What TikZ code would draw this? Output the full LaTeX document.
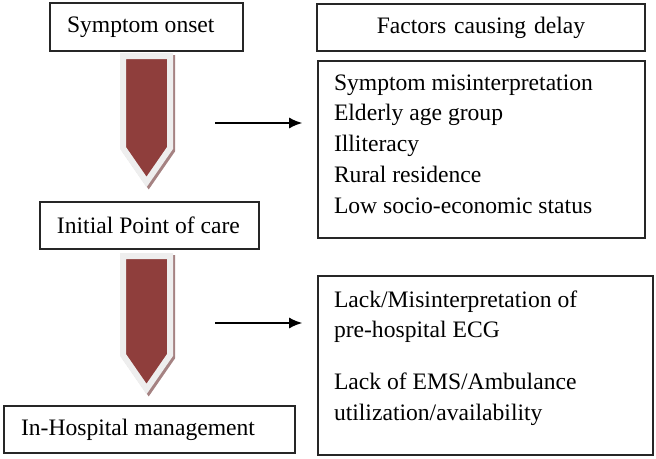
\documentclass[tikz,border=0pt]{standalone}
\usepackage{fontspec}
\setmainfont{Liberation Serif}
\usepackage{tikz}
\usetikzlibrary{arrows.meta,positioning}
\definecolor{arrowred}{RGB}{143,62,60}
\definecolor{rimgray}{RGB}{238,238,238}
\definecolor{shadegray}{RGB}{165,130,130}
\tikzstyle{stagebox} = [rectangle, draw=black!85, line width=1.6pt, align=flush left,
    inner xsep=16pt, minimum height=47pt]
\tikzstyle{listbox} = [rectangle, draw=black!85, line width=1.6pt, align=flush left,
    inner xsep=16pt]
\tikzstyle{line} = [draw, line width=1.6pt, -{Latex[length=13pt,width=11pt]}]
\tikzstyle{chevron} = [fill=arrowred, draw=rimgray, line width=6pt, line join=miter]
\tikzstyle{chevronshade} = [fill=shadegray, draw=shadegray, line width=6pt, line join=miter,
    xshift=2.2pt, yshift=-2.2pt]

\begin{document}
\begin{tikzpicture}[x=1pt,y=-1pt,font=\fontsize{23.6}{30.8}\selectfont]
  \useasboundingbox (0,0) rectangle (656,458);

      \node [stagebox, text width=161pt, minimum height=48pt] (onset) at (146.5,27) {\hspace*{1pt}Symptom onset};
      \node [stagebox, text width=187pt] (firstcare) at (149.5,225.5) {\hspace*{1pt}Initial Point of care};
      \node [stagebox, text width=259pt] (hospital) at (149.5,429.5) {\hspace*{1pt}In-Hospital management};

      \node [listbox, align=center, text width=296pt, minimum height=47pt] (factors) at (481,27.5) {Factors causing delay};
      \node [listbox, text width=295pt, text height=16pt, text depth=135pt, minimum height=177pt] (patient) at (481.5,149.5)
        {Symptom misinterpretation\\Elderly age group\\Illiteracy\\Rural residence\\Low socio-economic status};
      \node [listbox, text width=303pt, text height=16pt, text depth=133pt, minimum height=179pt] (system) at (485.5,365.5)
        {Lack/Misinterpretation of\\pre-hospital ECG\\[21pt]Lack of EMS/Ambulance\\utilization/availability};

      % big down arrows
      \foreach \s in {chevronshade,chevron} {
        \draw [\s] (123,56) -- (170,56) -- (170,148) -- (146.5,182) -- (123,148) -- cycle;
        \draw [\s] (123,256) -- (170,256) -- (170,355) -- (146.5,389) -- (123,355) -- cycle;
      }

      \coordinate (a1) at (215,123);
      \coordinate (a2) at (215,323);
      \path [line, shorten >=15pt] (a1) -- (a1 -| patient.west);
      \path [line, shorten >=15pt] (a2) -- (a2 -| system.west);

\end{tikzpicture}
\end{document}
